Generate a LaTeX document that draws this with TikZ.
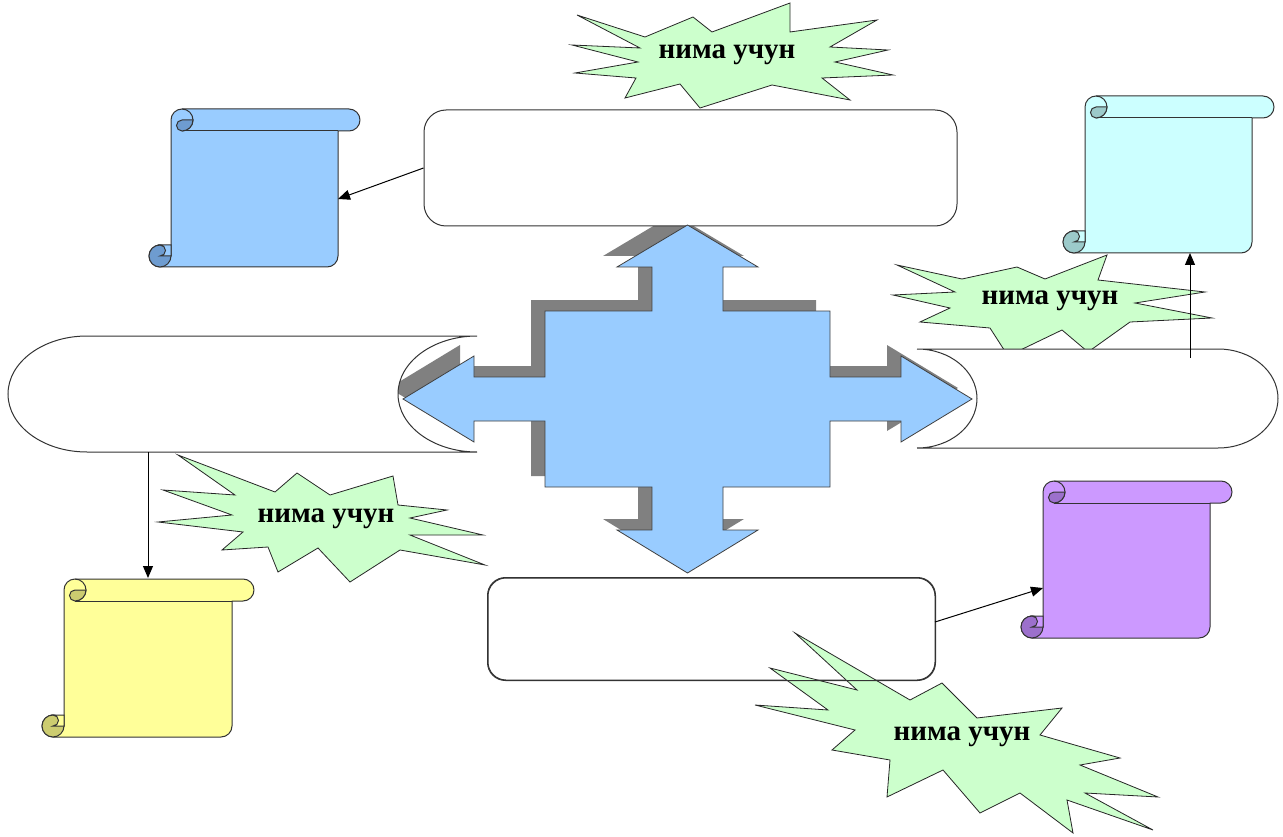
\documentclass[tikz,border=0pt]{standalone}
\usepackage{fontspec}
\setmainfont{Liberation Serif}
\usetikzlibrary{arrows.meta}
\definecolor{starfill}{HTML}{CCFFCC}
\definecolor{arrowfill}{HTML}{99CCFF}
\definecolor{shadowgray}{HTML}{808080}
\definecolor{bluelt}{HTML}{99CCFF}\definecolor{bluedk}{HTML}{6E9CD0}
\definecolor{cyanlt}{HTML}{CCFFFF}\definecolor{cyandk}{HTML}{9CCACA}
\definecolor{yellt}{HTML}{FFFF99}\definecolor{yeldk}{HTML}{CCCC70}
\definecolor{purlt}{HTML}{CC99FF}\definecolor{purdk}{HTML}{9C70CC}
\tikzset{
  sline/.style={draw=black!80, line width=1pt},
  starshape/.style={fill=starfill, draw=black!85, line width=0.8pt, line join=miter},
  startext/.style={font=\bfseries\fontsize{29}{33}\selectfont, inner sep=0pt},
  boxstyle/.style={draw=black!80, line width=1pt, fill=white, rounded corners=22pt, inner sep=0pt},
  shapeline/.style={draw=black!80, line width=1pt, fill=white},
  quadstyle/.style={fill=arrowfill, draw=black!75, line width=0.8pt},
  conn/.style={-{Triangle[length=12pt,width=10pt]}, line width=1pt, draw=black},
}
\newcommand\qarrow[2]{({687.5+#1},{225+#2}) -- ({758+#1},{267+#2}) -- ({723+#1},{267+#2}) -- ({723+#1},{311+#2}) -- ({830+#1},{311+#2}) -- ({830+#1},{377+#2}) -- ({901+#1},{377+#2}) -- ({901+#1},{356+#2}) -- ({972+#1},{399+#2}) -- ({901+#1},{442+#2}) -- ({901+#1},{421+#2}) -- ({830+#1},{421+#2}) -- ({830+#1},{487+#2}) -- ({723+#1},{487+#2}) -- ({723+#1},{530+#2}) -- ({758+#1},{530+#2}) -- ({687.5+#1},{573+#2}) -- ({617+#1},{530+#2}) -- ({652+#1},{530+#2}) -- ({652+#1},{487+#2}) -- ({545+#1},{487+#2}) -- ({545+#1},{421+#2}) -- ({474+#1},{421+#2}) -- ({474+#1},{442+#2}) -- ({403+#1},{399+#2}) -- ({474+#1},{356+#2}) -- ({474+#1},{377+#2}) -- ({545+#1},{377+#2}) -- ({545+#1},{311+#2}) -- ({652+#1},{311+#2}) -- ({652+#1},{267+#2}) -- ({617+#1},{267+#2}) -- cycle}
\newcommand\drawscroll[7]{%
\begin{scope}
\pgfmathsetmacro\sxa{#1}\pgfmathsetmacro\sya{#2}\pgfmathsetmacro\sxb{#3}\pgfmathsetmacro\syb{#4}%
\pgfmathsetmacro\sc{#5}\pgfmathsetmacro\sh{#5/2}\pgfmathsetmacro\sq{#5/4}%
\filldraw[fill=#6, sline, line join=round] (\sxa+\sc,\syb-\sh) -- (\sxa+\sc,\sya+\sh)
  arc[start angle=180,end angle=270,radius=\sh] -- (\sxb-\sh,\sya)
  arc[start angle=270,end angle=450,radius=\sh] -- (\sxb-\sc,\sya+\sc)
  -- (\sxb-\sc,\syb-\sh) arc[start angle=0,end angle=90,radius=\sh]
  -- (\sxa+\sh,\syb) arc[start angle=90,end angle=360,radius=\sh] -- cycle;
\draw[sline] (\sxa+\sc+\sh,\sya+\sc) -- (\sxb-\sc,\sya+\sc);
\draw[sline] (\sxa+\sc+\sh,\sya) arc[start angle=270,end angle=450,radius=\sh];
\filldraw[fill=#7, sline] (\sxa+\sc+\sh,\sya+\sh) arc[start angle=270,end angle=90,radius=\sq]
  arc[start angle=90,end angle=0,radius=\sh] -- cycle;
\filldraw[fill=#7, sline] (\sxa+\sh,\syb-\sh) circle[radius=\sh];
\filldraw[fill=#6, sline] (\sxa+\sh,\syb-\sc) arc[start angle=270,end angle=450,radius=\sq]
  -- (\sxa+\sc,\syb-\sh) -- (\sxa+\sc,\syb-\sc) -- cycle;
\end{scope}}
\begin{document}
\begin{tikzpicture}[x=1pt,y=1pt,yscale=-1]
\useasboundingbox (0,0) rectangle (1283,837);
\fill[white] (0,0) rectangle (1283,837);

% shadow of the four-way arrow
\fill[shadowgray] \qarrow{-14}{-11};

% starbursts (behind shapes)
\filldraw[starshape] (577,15) -- (645,37) -- (693,17) -- (712,32) -- (790,3) -- (790,32) -- (877,20) -- (830,47) -- (888,50) -- (835,62) -- (893,75) -- (822,78) -- (850,100) -- (772,85) -- (700,108) -- (680,84) -- (625,98) -- (636,78) -- (575,73) -- (638,62) -- (572,45) -- (640,48) -- cycle;
\filldraw[starshape] (897,265) -- (962,279) -- (1017,267) -- (1045,279) -- (1107,255) -- (1098,280) -- (1205,292) -- (1135,303) -- (1212,318) -- (1130,322) -- (1088,352) -- (1062,330) -- (1008,356) -- (990,328) -- (920,322) -- (950,308) -- (893,295) -- (955,292) -- cycle;
\filldraw[starshape] (178,455) -- (275,492) -- (297,473) -- (330,495) -- (393,476) -- (398,505) -- (447,510) -- (410,518) -- (483,535) -- (410,535) -- (485,565) -- (400,550) -- (350,582) -- (318,548) -- (278,572) -- (268,547) -- (222,550) -- (243,532) -- (158,522) -- (232,515) -- (163,490) -- (235,495) -- cycle;

% boxes and end shapes
\node[boxstyle, minimum width=533pt, minimum height=116pt] (topbox) at (690.5,168) {};
\node[boxstyle, rounded corners=18pt, minimum width=447pt, minimum height=102pt] (botbox) at (711.5,629) {};
\filldraw[shapeline] (87,336) -- (477,336) arc[start angle=270, end angle=90, x radius=79, y radius=58] -- (87,452) arc[start angle=90, end angle=270, x radius=79, y radius=58] -- cycle;
\filldraw[shapeline] (917,349) -- (1218,349) arc[start angle=270, end angle=450, x radius=60, y radius=49.5] -- (917,448) arc[start angle=90, end angle=-90, x radius=60, y radius=49.5] -- cycle;

% four-way arrow
\filldraw[quadstyle] \qarrow{0}{0};

% bottom-right starburst, over the lower box
\filldraw[starshape] (795,633) -- (910,700) -- (942,683) -- (977,718) -- (1062,708) -- (1040,735) -- (1120,758) -- (1080,765) -- (1158,797) -- (1085,793) -- (1153,830) -- (1067,800) -- (1073,833) -- (1020,793) -- (980,813) -- (943,770) -- (887,797) -- (890,760) -- (832,750) -- (855,730) -- (755,705) -- (828,710) -- (770,668) -- (857,690) -- cycle;
\draw[draw=black!80, line width=1pt, rounded corners=18pt] (botbox.north west) rectangle (botbox.south east);

% scrolls
\drawscroll{149}{109}{360}{267}{22}{bluelt}{bluedk}
\drawscroll{1063}{96}{1274}{253}{22}{cyanlt}{cyandk}
\drawscroll{42}{579}{254}{737}{22}{yellt}{yeldk}
\drawscroll{1021}{481}{1232}{638}{22}{purlt}{purdk}

% connector end points
\coordinate (bluein) at (338,199);
\coordinate (yelin) at (148,578);
\coordinate (cyanin) at (1190,253);
\coordinate (purin) at (1043,588);
\coordinate (lsbot) at (148,452);
\coordinate (rstop) at (1190,358);
\coordinate (botout) at (935,622);

\draw[conn] (topbox.west) -- (bluein);
\draw[conn] (lsbot) -- (yelin);
\draw[conn] (rstop) -- (cyanin);
\draw[conn] (botout) -- (purin);

% star texts
\node[startext] (s1) at (727,55) {нима учун};
\node[startext] (s2) at (1050,301) {нима учун};
\node[startext] (s3) at (326,519) {нима учун};
\node[startext] (s4) at (962,737) {нима учун};
\end{tikzpicture}
\end{document}
